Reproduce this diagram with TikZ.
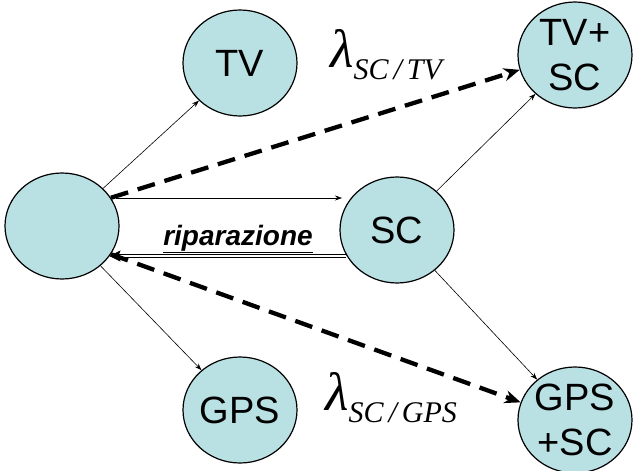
\documentclass[tikz,border=0pt]{standalone}
\usepackage{fontspec}
\setmainfont{Liberation Sans}
\newfontfamily\serifit{Liberation Serif}
\usetikzlibrary{shapes.geometric,arrows.meta}
\definecolor{nodefill}{HTML}{B9E0E3}
\tikzset{
  state/.style={ellipse, draw=black, line width=1.2pt, fill=nodefill, minimum width=114pt, minimum height=106pt, inner sep=0pt, align=center, font=\fontsize{38}{45}\selectfont},
  thinarrow/.style={-{Stealth[length=7pt,width=5pt]}, line width=0.6pt},
  dasharrow/.style={-{Stealth[length=16pt,width=13pt]}, line width=4.3pt, dash pattern=on 18pt off 10pt},
  lam/.style={font=\fontsize{54}{54}\serifit\itshape, inner sep=0pt}
}
\begin{document}
\begin{tikzpicture}[x=1pt,y=-1pt]
\useasboundingbox (0,0) rectangle (635,471);
\node[state] (L) at (62,226) {};
\node[state] (TV) at (240,63) {TV};
\node[state] (SC) at (397,230) {SC};
\node[state] (TVSC) at (575,55) {TV+\\SC};
\node[state] (GPSSC) at (575,420) {GPS\\+SC};
\node[state] (GPS) at (240,410) {GPS};

\coordinate (a1) at (116,198);
\coordinate (a2) at (342,198);
\coordinate (b1) at (346,256);
\coordinate (b2) at (110,256);

\draw[thinarrow] (L) -- (TV);
\draw[thinarrow] (L) -- (GPS);
\draw[thinarrow] (SC) -- (TVSC);
\draw[thinarrow] (SC) -- (GPSSC);
\draw[thinarrow] (a1) -- (a2);
\draw[line width=0.6pt] ([yshift=-1.6pt]b1) -- ([yshift=-1.6pt,xshift=8pt]b2);
\draw[line width=0.6pt] ([yshift=1.6pt]b1) -- ([yshift=1.6pt,xshift=8pt]b2);
\draw[line width=0.6pt, fill=black] (b2) -- ++(10,-5) -- ++(-2,5) -- ++(2,5) -- cycle;
\node[font=\fontsize{28}{29}\selectfont\bfseries\itshape, inner sep=0pt] (rip) at (238,239) {\underline{riparazione}};

\draw[dasharrow] (L.30) -- (TVSC.195);
\draw[dasharrow] (L.-30) -- (GPSSC.162);

\node[lam, anchor=west] (l1) at (330,55) {λ\raisebox{-12pt}{\fontsize{30}{30}\selectfont SC\,/\,TV}};
\node[lam, anchor=west] (l2) at (325,398) {λ\raisebox{-12pt}{\fontsize{30}{30}\selectfont SC\,/\,GPS}};
\end{tikzpicture}
\end{document}
